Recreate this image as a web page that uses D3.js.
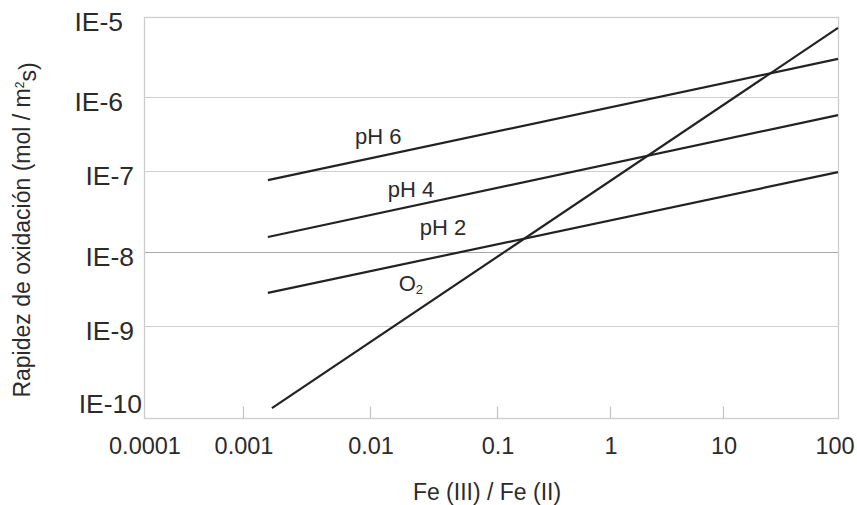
<!DOCTYPE html>
<html>
<head>
<meta charset="utf-8">
<script src="https://cdn.jsdelivr.net/npm/d3@7"></script>
<style>
  body { margin: 0; background: #fff; }
  text { font-family: "Liberation Sans", Arial, sans-serif; fill: #2b2b2b; }
</style>
</head>
<body>
<div class="chart"></div>
<script>
// data
var xTicks = [0.0001, 0.001, 0.01, 0.1, 1, 10, 100];
var xTickLabels = ["0.0001", "0.001", "0.01", "0.1", "1", "10", "100"];
var yTicks = [1e-10, 1e-9, 1e-8, 1e-7, 1e-6, 1e-5];
var yTickLabels = ["IE-10", "IE-9", "IE-8", "IE-7", "IE-6", "IE-5"];

var seriesNames = ["pH 6", "pH 4", "pH 2", "O2"];
var ratioStart = [0.00157, 0.00157, 0.00157, 0.00169];
var ratioEnd = [100, 100, 100, 100];
var rateStart = [7.7e-8, 1.53e-8, 2.8e-9, 1.28e-10];
var rateEnd = [3.0e-6, 5.7e-7, 9.7e-8, 7.3e-6];
// where each line's label sits (Fe ratio, rate)
var labelRatio = [0.0116, 0.021, 0.0376, 0.021];
var labelRate = [2.9e-7, 6.0e-8, 2.0e-8, 3.8e-9];

var svgWidth = 857;
var svgHeight = 505;

var svg = d3.select(".chart")
  .append("svg")
  .attr("width", svgWidth)
  .attr("height", svgHeight);

// the drawing is not evenly spaced, so the log scales are piecewise
var x = d3.scaleLog()
  .domain(xTicks)
  .range([144, 243, 370, 497, 610, 723, 838]);

var y = d3.scaleLog()
  .domain(yTicks)
  .range([418, 326, 252, 171, 97, 17]);

var plotLeft = x(xTicks[0]), plotRight = x(xTicks[xTicks.length - 1]);
var plotTop = y(yTicks[yTicks.length - 1]), plotBottom = y(yTicks[0]);

// grid lines
svg.append("g")
  .selectAll("line")
  .data(yTicks.slice(1, -1))
  .enter()
  .append("line")
  .attr("x1", plotLeft)
  .attr("x2", plotRight)
  .attr("y1", d => Math.round(y(d)) + 0.5)
  .attr("y2", d => Math.round(y(d)) + 0.5)
  .attr("stroke", (d, i) => i === 1 ? "#a8a8a8" : "#cfcfcf")
  .attr("stroke-width", 1.2);

// frame
svg.append("rect")
  .attr("x", plotLeft + 0.5)
  .attr("y", plotTop + 0.5)
  .attr("width", plotRight - plotLeft)
  .attr("height", plotBottom - plotTop)
  .attr("fill", "none")
  .attr("stroke", "#cccccc")
  .attr("stroke-width", 1.3);

// x axis: small ticks going up from the bottom
var xAxis = d3.axisTop(x)
  .tickValues(xTicks.slice(1, -1))
  .tickSize(12)
  .tickFormat("");

var xAxisG = svg.append("g")
  .attr("transform", `translate(0, ${plotBottom + 0.5})`)
  .call(xAxis);
xAxisG.select(".domain").remove();
xAxisG.selectAll("line").attr("stroke", "#c4c4c4").attr("stroke-width", 1.2);

svg.append("g")
  .selectAll("text")
  .data(xTicks)
  .enter()
  .append("text")
  .attr("x", d => Math.min(x(d) + 1, 835))
  .attr("y", 454)
  .attr("text-anchor", "middle")
  .style("font-size", "23.5px")
  .text((d, i) => xTickLabels[i]);

// y tick labels (right edges drift a little in the original)
svg.append("g")
  .selectAll("text")
  .data(yTicks)
  .enter()
  .append("text")
  .attr("x", d => d >= 1e-6 ? 123 : (d === yTicks[0] ? 142 : 134))
  .attr("y", d => Math.min(y(d) + 5, plotBottom - 14))
  .attr("dy", "0.35em")
  .attr("text-anchor", "end")
  .style("font-size", "26.5px")
  .text((d, i) => yTickLabels[i]);

// axis titles
svg.append("text")
  .attr("x", 487)
  .attr("y", 500)
  .attr("text-anchor", "middle")
  .style("font-size", "23px")
  .text("Fe (III) / Fe (II)");

var yTitle = svg.append("text")
  .attr("transform", "translate(30, 230) rotate(-90)")
  .attr("text-anchor", "middle")
  .style("font-size", "23px");
yTitle.append("tspan").text("Rapidez de oxidación (mol / m");
yTitle.append("tspan").attr("dy", "-0.5em").style("font-size", "12px").text("2");
yTitle.append("tspan").attr("dy", "0.5em").text("s)");

// lines
svg.append("g")
  .selectAll("line")
  .data(seriesNames)
  .enter()
  .append("line")
  .attr("x1", (d, i) => x(ratioStart[i]))
  .attr("y1", (d, i) => y(rateStart[i]))
  .attr("x2", (d, i) => x(ratioEnd[i]))
  .attr("y2", (d, i) => y(rateEnd[i]))
  .attr("stroke", "#222")
  .attr("stroke-width", 2.2);

// line labels
var labels = svg.append("g")
  .selectAll("text")
  .data(seriesNames)
  .enter()
  .append("text")
  .attr("x", (d, i) => x(labelRatio[i]))
  .attr("y", (d, i) => y(labelRate[i]))
  .attr("dy", "0.35em")
  .attr("text-anchor", "middle")
  .style("font-size", "22px");

labels.each(function(d) {
  var t = d3.select(this);
  if (d === "O2") {
    t.append("tspan").text("O");
    t.append("tspan").attr("dy", "0.25em").style("font-size", "13px").text("2");
  } else {
    t.text(d);
  }
});
</script>
</body>
</html>
